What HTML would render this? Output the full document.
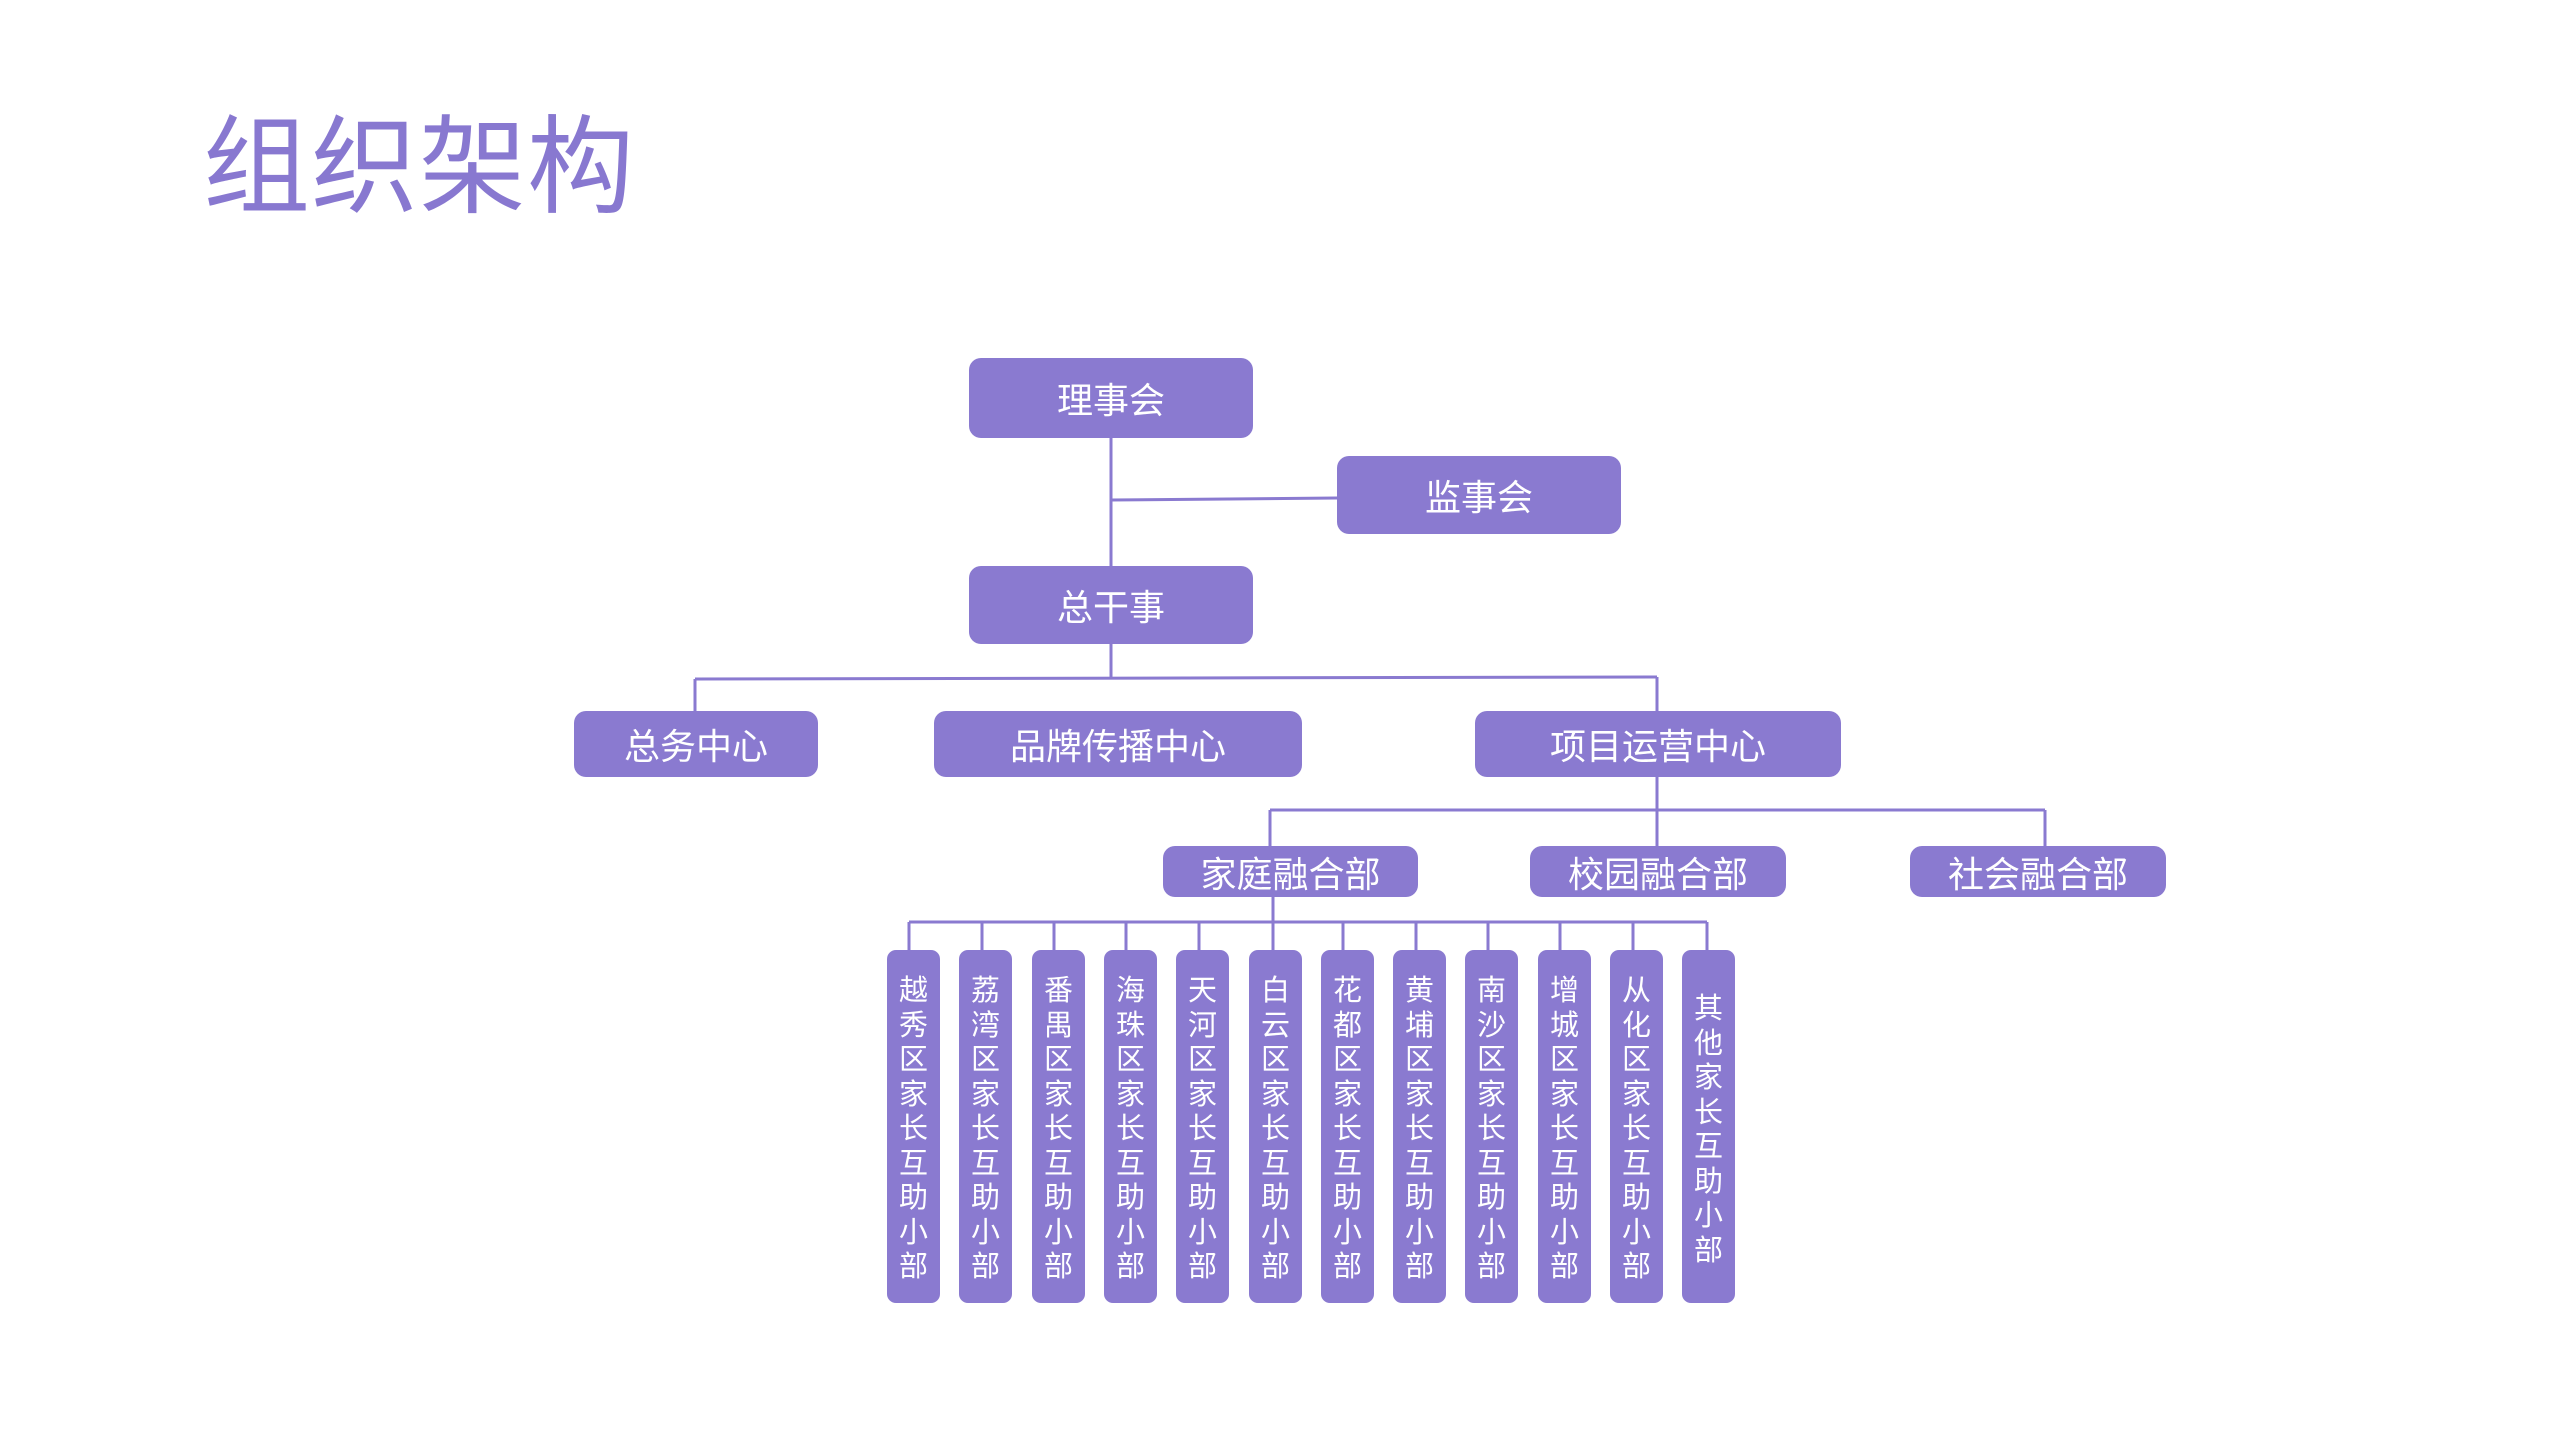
<!DOCTYPE html>
<html><head><meta charset="utf-8"><style>
html,body{margin:0;padding:0;background:#fff;}
body{width:2560px;height:1440px;position:relative;overflow:hidden;font-family:"Liberation Sans","Noto Sans CJK SC",sans-serif;}
.t{position:absolute;left:203px;top:97px;font-size:107px;color:#8878d0;line-height:140px;letter-spacing:1px;}
.b{position:absolute;background:#8a7ad0;color:#fff;border-radius:12px;display:flex;align-items:center;justify-content:center;font-size:36px;}
.v{position:absolute;background:#8a7ad0;color:#fff;border-radius:9px;top:950px;height:353px;width:53px;font-size:29px;line-height:34.5px;text-align:center;box-sizing:border-box;padding-top:24px;}
.v.o{padding-top:42px;}
svg{position:absolute;left:0;top:0;}
</style></head><body>
<div class="t">组织架构</div>
<svg width="2560" height="1440"><g stroke="#8a7ad0" stroke-width="3" fill="none">
<line x1="1111" y1="438" x2="1111" y2="678"/>
<line x1="1111" y1="500" x2="1337" y2="498"/>
<line x1="695" y1="679" x2="1657" y2="677"/>
<line x1="695" y1="679" x2="695" y2="711"/>
<line x1="1657" y1="677" x2="1657" y2="846"/>
<line x1="1270" y1="810" x2="2045" y2="810"/>
<line x1="1270" y1="810" x2="1270" y2="846"/>
<line x1="2045" y1="810" x2="2045" y2="846"/>
<line x1="1273" y1="897" x2="1273" y2="950"/>
<line x1="909" y1="922" x2="1707" y2="922"/>
<line x1="909" y1="922" x2="909" y2="950"/><line x1="982" y1="922" x2="982" y2="950"/><line x1="1054" y1="922" x2="1054" y2="950"/><line x1="1126" y1="922" x2="1126" y2="950"/><line x1="1199" y1="922" x2="1199" y2="950"/><line x1="1343" y1="922" x2="1343" y2="950"/><line x1="1416" y1="922" x2="1416" y2="950"/><line x1="1488" y1="922" x2="1488" y2="950"/><line x1="1560" y1="922" x2="1560" y2="950"/><line x1="1633" y1="922" x2="1633" y2="950"/><line x1="1707" y1="922" x2="1707" y2="950"/>
</g></svg>
<div class="b" style="left:969px;top:358px;width:284px;height:80px;">理事会</div>
<div class="b" style="left:1337px;top:456px;width:284px;height:78px;">监事会</div>
<div class="b" style="left:969px;top:566px;width:284px;height:78px;">总干事</div>
<div class="b" style="left:574px;top:711px;width:244px;height:66px;">总务中心</div>
<div class="b" style="left:934px;top:711px;width:368px;height:66px;">品牌传播中心</div>
<div class="b" style="left:1475px;top:711px;width:366px;height:66px;">项目运营中心</div>
<div class="b" style="left:1163px;top:846px;width:255px;height:51px;">家庭融合部</div>
<div class="b" style="left:1530px;top:846px;width:256px;height:51px;">校园融合部</div>
<div class="b" style="left:1910px;top:846px;width:256px;height:51px;">社会融合部</div>
<div class="v" style="left:887px">越秀区家长互助小部</div>
<div class="v" style="left:959px">荔湾区家长互助小部</div>
<div class="v" style="left:1032px">番禺区家长互助小部</div>
<div class="v" style="left:1104px">海珠区家长互助小部</div>
<div class="v" style="left:1176px">天河区家长互助小部</div>
<div class="v" style="left:1249px">白云区家长互助小部</div>
<div class="v" style="left:1321px">花都区家长互助小部</div>
<div class="v" style="left:1393px">黄埔区家长互助小部</div>
<div class="v" style="left:1465px">南沙区家长互助小部</div>
<div class="v" style="left:1538px">增城区家长互助小部</div>
<div class="v" style="left:1610px">从化区家长互助小部</div>
<div class="v o" style="left:1682px">其他家长互助小部</div>
</body></html>
